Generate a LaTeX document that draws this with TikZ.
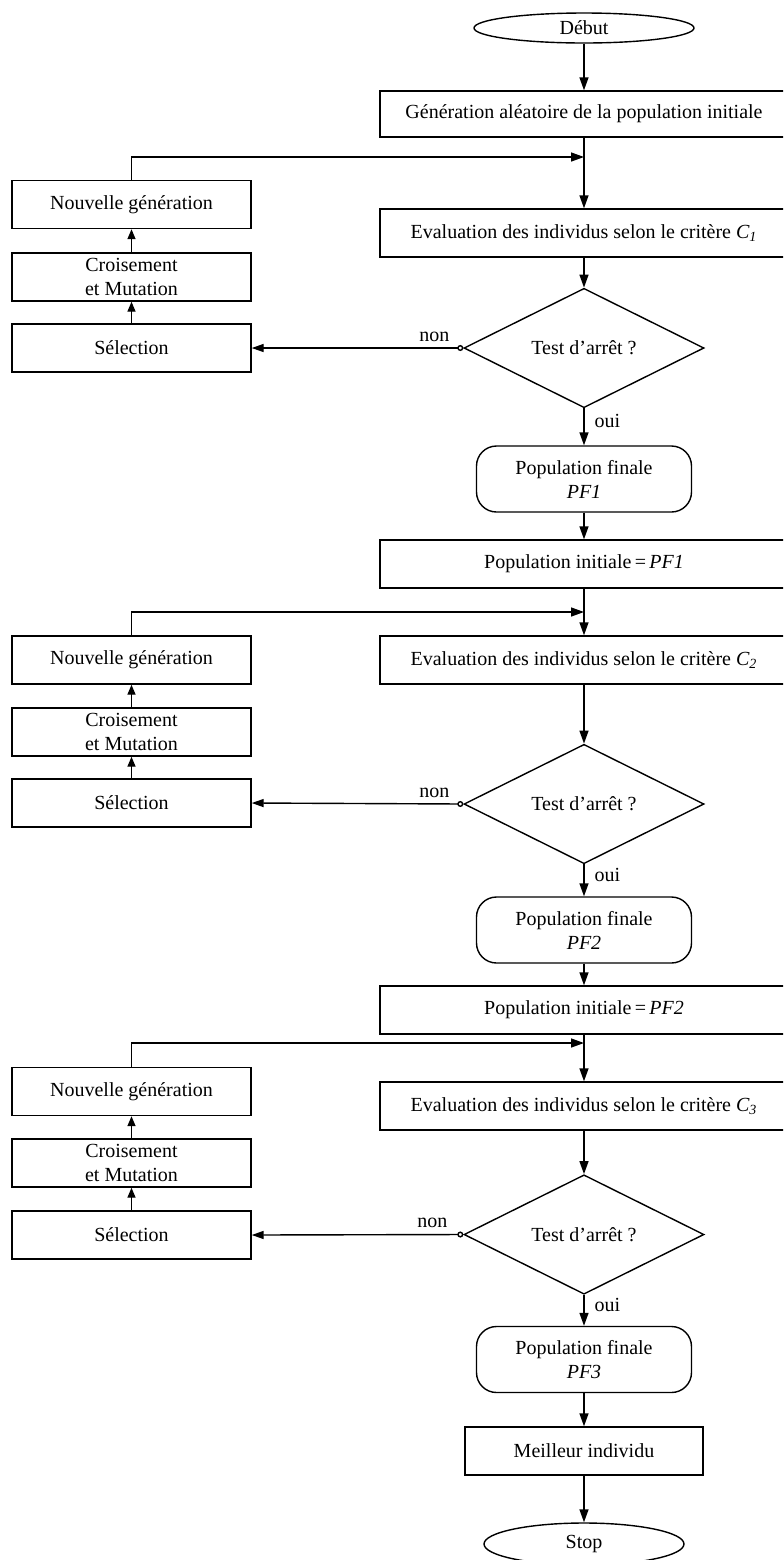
\documentclass[tikz,border=0pt]{standalone}
\usepackage{fontspec}
\setmainfont{Liberation Serif}
\usetikzlibrary{shapes.geometric,arrows.meta}
\begin{document}
\begin{tikzpicture}[x=0.5pt,y=-0.5pt, line width=0.7pt,
  font=\fontsize{10}{12}\selectfont,
  box/.style={draw, rectangle, inner sep=0pt, align=center},
  wide/.style={box, minimum width=204pt, minimum height=24pt},
  side/.style={box, minimum width=119.5pt, minimum height=24pt},
  final/.style={box, rounded corners=10pt, minimum width=107.5pt, minimum height=33pt},
  test/.style={draw, diamond, inner sep=0pt, minimum width=120pt, minimum height=53pt},
  term/.style={draw, ellipse, inner sep=0pt},
  arr/.style={-{Triangle[length=6.5pt,width=4.5pt]}},
  sarr/.style={-{Triangle[length=5pt,width=4pt]}},
  noarr/.style={{Circle[open,length=3pt]}-{Triangle[length=6pt,width=4pt]}},
  lab/.style={inner sep=0pt}
]
\clip (0,0) rectangle (783,1560);

% ---------- first stage ----------
\node[term, minimum width=110pt, minimum height=15pt] (debut) at (584,28) {Début};
\node[wide, minimum height=23pt] (gen) at (584,114) {Génération aléatoire de la population initiale};
\coordinate (j1) at (584,157);
\node[side] (ng1) at (131.5,204.5) {Nouvelle génération};
\node[wide] (ev1) at (584,233) {Evaluation des individus selon le critère \textit{C\textsubscript{1}}};
\node[side] (cm1) at (131.5,277) {Croisement\\et Mutation};
\node[side] (se1) at (131.5,348) {Sélection};
\node[test] (t1) at (584,348) {Test d’arrêt ?};
\node[final] (pf1) at (584,479) {Population finale\\\textit{PF1}};
\node[wide] (pi1) at (584,564) {Population initiale\,=\,\textit{PF1}};

\draw[arr] (debut) -- (gen);
\draw (gen) -- (j1);
\draw[arr] (j1) -- (ev1);
\draw[arr] (ng1.north) |- (j1);
\draw[sarr] (se1) -- (cm1);
\draw[sarr] (cm1) -- (ng1);
\draw[arr] (ev1) -- (t1);
\draw[noarr] (t1.west) -- (se1.east);
\node[lab] at ([shift={(-29,-11)}]t1.west) {non};
\draw[arr] (t1) -- node[pos=0.33, right=5pt, lab] {oui} (pf1);
\draw[arr] (pf1) -- (pi1);

% ---------- second stage ----------
\coordinate (j2) at (584,612);
\node[side] (ng2) at (131.5,660) {Nouvelle génération};
\node[wide] (ev2) at (584,660) {Evaluation des individus selon le critère \textit{C\textsubscript{2}}};
\node[side] (cm2) at (131.5,732) {Croisement\\et Mutation};
\node[side] (se2) at (131.5,803) {Sélection};
\node[test] (t2) at (584,804) {Test d’arrêt ?};
\node[final] (pf2) at (584,930) {Population finale\\\textit{PF2}};
\node[wide] (pi2) at (584,1010) {Population initiale\,=\,\textit{PF2}};

\draw (pi1) -- (j2);
\draw[arr] (j2) -- (ev2);
\draw[arr] (ng2.north) |- (j2);
\draw[sarr] (se2) -- (cm2);
\draw[sarr] (cm2) -- (ng2);
\draw[arr] (ev2) -- (t2);
\draw[noarr] (t2.west) -- (se2.east);
\node[lab] at ([shift={(-29,-11)}]t2.west) {non};
\draw[arr] (t2) -- node[pos=0.33, right=5pt, lab] {oui} (pf2);
\draw[arr] (pf2) -- (pi2);

% ---------- third stage ----------
\coordinate (j3) at (584,1043);
\node[side] (ng3) at (131.5,1091.5) {Nouvelle génération};
\node[wide] (ev3) at (584,1106) {Evaluation des individus selon le critère \textit{C\textsubscript{3}}};
\node[side] (cm3) at (131.5,1163) {Croisement\\et Mutation};
\node[side] (se3) at (131.5,1235) {Sélection};
\node[test] (t3) at (584,1234.5) {Test d’arrêt ?};
\node[final] (pf3) at (584,1359.5) {Population finale\\\textit{PF3}};
\node[box, minimum width=119pt, minimum height=24pt] (best) at (584,1451) {Meilleur individu};
\node[term, minimum width=100pt, minimum height=21pt] (stop) at (584,1544) {Stop};

\draw (pi2) -- (j3);
\draw[arr] (j3) -- (ev3);
\draw[arr] (ng3.north) |- (j3);
\draw[sarr] (se3) -- (cm3);
\draw[sarr] (cm3) -- (ng3);
\draw[arr] (ev3) -- (t3);
\draw[noarr] (t3.west) -- (se3.east);
\node[lab] at ([shift={(-31,-12)}]t3.west) {non};
\draw[arr] (t3) -- node[pos=0.33, right=5pt, lab] {oui} (pf3);
\draw[arr] (pf3) -- (best);
\draw[arr] (best) -- (stop);
\end{tikzpicture}
\end{document}
